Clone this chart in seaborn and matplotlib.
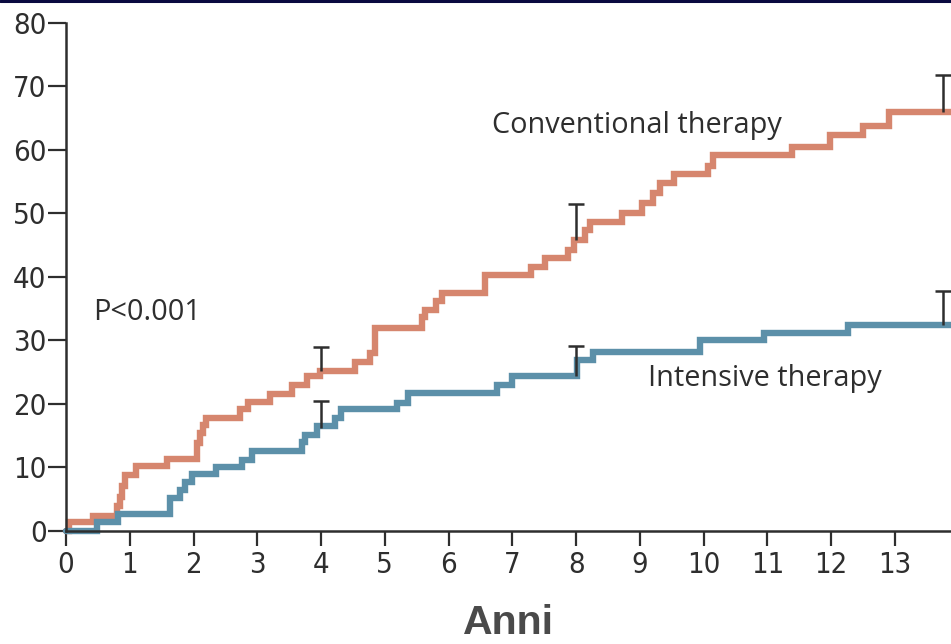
import matplotlib
matplotlib.use("Agg")
import matplotlib.pyplot as plt
import seaborn as sns
import pandas as pd
from matplotlib.lines import Line2D

# ---- data ----
conv_t = [0, 0.05, 0.42, 0.80, 0.84, 0.88, 0.93, 1.10, 1.58, 2.05, 2.10, 2.15, 2.20,
          2.73, 2.86, 3.20, 3.54, 3.78, 3.98, 4.53, 4.77, 4.85, 5.58, 5.63, 5.81, 5.89,
          6.57, 7.30, 7.51, 7.88, 7.96, 8.14, 8.22, 8.72, 9.03, 9.21, 9.32, 9.53,
          10.07, 10.15, 11.38, 11.98, 12.50, 12.90, 14.2]
conv_v = [0, 1.3, 2.3, 3.8, 5.3, 7.0, 8.7, 10.2, 11.3, 13.8, 15.4, 16.6, 17.8,
          19.2, 20.2, 21.5, 22.9, 24.3, 25.2, 26.6, 28.0, 32.0, 33.6, 34.8, 36.1, 37.5,
          40.3, 41.6, 42.9, 44.2, 45.8, 47.4, 48.7, 50.0, 51.7, 53.2, 54.8, 56.2,
          57.5, 59.2, 60.5, 62.3, 63.8, 65.9, 65.9]

int_t = [0, 0.48, 0.82, 1.63, 1.79, 1.87, 1.97, 2.36, 2.76, 2.91, 3.70, 3.75, 3.93,
         4.22, 4.32, 5.19, 5.37, 6.76, 6.99, 8.01, 8.27, 9.95, 10.94, 12.27, 14.2]
int_v = [0, 1.4, 2.6, 5.1, 6.4, 7.7, 8.9, 10.0, 11.1, 12.5, 14.0, 15.1, 16.4,
         17.7, 19.1, 20.1, 21.6, 23.0, 24.3, 26.9, 28.2, 30.0, 31.1, 32.4, 32.4]

ci_t = [4, 8, 13.76]
conv_lo = [25.2, 45.8, 65.9]
conv_hi = [28.9, 51.5, 71.8]
int_lo = [16.2, 24.3, 32.4]
int_hi = [20.4, 29.1, 37.8]

x_ticks = list(range(0, 14))
y_ticks = list(range(0, 81, 10))

conv_color = "#d6866e"
int_color = "#5c90a9"
ink = "#2e2e2e"

sns.set_style("white")
plt.rcParams["font.family"] = ["DejaVu Sans"]
plt.rcParams["font.stretch"] = "condensed"

fig = plt.figure(figsize=(9.51, 6.44), dpi=100)
ax = fig.add_axes([66 / 951, (644 - 530.5) / 644, 1 - 66 / 951, (530.5 - 23) / 644])

df = pd.concat([
    pd.DataFrame({"t": conv_t, "v": conv_v, "g": "Conventional therapy"}),
    pd.DataFrame({"t": int_t, "v": int_v, "g": "Intensive therapy"}),
])
sns.lineplot(data=df, x="t", y="v", hue="g",
             palette={"Conventional therapy": conv_color, "Intensive therapy": int_color},
             drawstyle="steps-post", linewidth=4.6, legend=False, ax=ax,
             estimator=None, sort=False)
for ln in ax.get_lines():
    ln.set_solid_joinstyle("miter")
    ln.set_clip_on(False)

# confidence bars (upper only, T-shaped)
cap = 0.13
for lo, hi in ((conv_lo, conv_hi), (int_lo, int_hi)):
    ax.vlines(ci_t, lo, hi, color=ink, linewidth=1.8, zorder=5)
    ax.hlines(hi, [t - cap for t in ci_t], [t + cap for t in ci_t],
              color=ink, linewidth=1.8, zorder=5)

ax.set_xlim(0, 13.88)
ax.set_ylim(0, 80)
ax.set_xticks(x_ticks)
ax.set_yticks(y_ticks)
ax.set_xticklabels([str(v) for v in x_ticks], fontsize=21, color=ink,
                   fontstretch="condensed")
ax.set_yticklabels([str(v) for v in y_ticks], fontsize=21, color=ink,
                   fontstretch="condensed")
ax.tick_params(axis="both", direction="out", length=11, width=1.6, color=ink,
               pad=4, left=True, bottom=True)
ax.tick_params(axis="y", length=13, pad=1)

for s in ("top", "right"):
    ax.spines[s].set_visible(False)
for s in ("left", "bottom"):
    ax.spines[s].set_color(ink)
    ax.spines[s].set_linewidth(1.8)
    ax.spines[s].set_zorder(6)

ax.set_xlabel("Anni", fontsize=29.5, fontweight="bold", color="#4a4a4a",
              family=["Liberation Sans", "DejaVu Sans"], fontstretch="normal",
              labelpad=18)
ax.set_ylabel("")

ann_font = ["Open Sans", "DejaVu Sans"]
ax.text(6.68, 63.8, "Conventional therapy", fontsize=20.8, color=ink,
        family=ann_font, fontstretch="normal", va="center", ha="left")
ax.text(9.13, 24.0, "Intensive therapy", fontsize=20.8, color=ink,
        family=ann_font, fontstretch="normal", va="center", ha="left")
ax.text(0.42, 34.4, "P<0.001", fontsize=20.8, color=ink,
        family=ann_font, fontstretch="normal", va="center", ha="left")

# thin navy rule at the very top
fig.add_artist(Line2D([0, 1], [0.9985, 0.9985], transform=fig.transFigure,
                      color="#0a0a40", linewidth=2.2))

fig.savefig("out.png", dpi=100)
